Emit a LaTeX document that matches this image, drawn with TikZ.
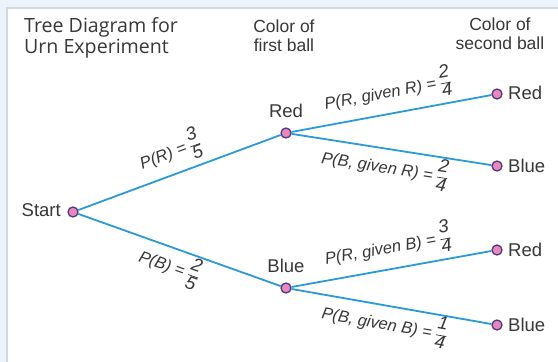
\documentclass[tikz,border=0pt]{standalone}
\usepackage{fontspec}
\setmainfont{Liberation Sans}
\newfontfamily\titlefont{Open Sans}
\definecolor{pagebg}{HTML}{EDF3FB}
\definecolor{frameline}{HTML}{D3D8DF}
\definecolor{branch}{HTML}{2A9ADA}
\definecolor{dotfill}{HTML}{EE86B8}
\definecolor{dotline}{HTML}{4A3A90}
\definecolor{ink}{HTML}{383838}
% stacked fraction set in a slightly larger text font
\newcommand\tfrac[2]{{\fontsize{18.5}{20}\selectfont
  \renewcommand\arraystretch{0.92}\setlength\arrayrulewidth{0.7pt}%
  \setlength\tabcolsep{0pt}%
  \begin{tabular}[c]{c}#1\\\hline#2\end{tabular}}}
\begin{document}
\begin{tikzpicture}[x=1pt,y=-1pt,
  outcome/.style={circle,draw=dotline,fill=dotfill,line width=1.3pt,
    minimum size=10pt,inner sep=0pt},
  branchline/.style={draw=branch,line width=1.8pt},
  prob/.style={sloped,font=\fontsize{16.5}{18}\selectfont\itshape,text=ink,
    inner sep=0.5pt},
  lbl/.style={font=\fontsize{18.5}{20}\selectfont,text=ink,inner sep=0pt},
  head/.style={font=\fontsize{17.5}{18.5}\selectfont,text=ink,align=center,
    inner sep=0pt}]
% page and panel
\fill[pagebg] (0,0) rectangle (558,362);
\useasboundingbox (0,0) rectangle (558,362);
\filldraw[fill=white,draw=frameline,line width=1.2pt] (7,8) rectangle (570,372);
% headings
\node[anchor=north west,align=left,inner sep=0pt,text=ink,
  font=\titlefont\fontsize{19.6}{21.5}\selectfont] (title) at (24,17)
  {Tree Diagram for\\Urn Experiment};
\node[head,anchor=north] (h1) at (284,20) {Color of\\first ball};
\node[head,anchor=north] (h2) at (500,18) {Color of\\second ball};
% tree points
\node[outcome] (s) at (73,212) {};
\node[outcome] (r) at (286,133) {};
\node[outcome] (b) at (286,288) {};
\node[outcome] (rr) at (497,94) {};
\node[outcome] (rb) at (497,166) {};
\node[outcome] (br) at (497,250) {};
\node[outcome] (bb) at (497,325) {};
% point labels
\node[lbl,anchor=east] (ls) at (61,210) {Start};
\node[lbl,anchor=south] (lr) at (286,118) {Red};
\node[lbl,anchor=south] (lb) at (286,273) {Blue};
\node[lbl,anchor=west] (lrr) at (508,93) {Red};
\node[lbl,anchor=west] (lrb) at (508,166) {Blue};
\node[lbl,anchor=west] (lbr) at (508,250) {Red};
\node[lbl,anchor=west] (lbb) at (508,325) {Blue};
% branches with their probabilities
\draw[branchline] (s) -- node[prob,above,pos=0.49] (p1) {P(R) = \tfrac{3}{5}} (r);
\draw[branchline] (s) -- node[prob,below,pos=0.48] (p2) {P(B) = \tfrac{2}{5}} (b);
\draw[branchline] (r) -- node[prob,above,pos=0.5] (p3) {P(R, given R) = \tfrac{2}{4}} (rr);
\draw[branchline] (r) -- node[prob,below,pos=0.48] (p4) {P(B, given R) = \tfrac{2}{4}} (rb);
\draw[branchline] (b) -- node[prob,above,pos=0.5] (p5) {P(R, given B) = \tfrac{3}{4}} (br);
\draw[branchline] (b) -- node[prob,below,pos=0.48] (p6) {P(B, given B) = \tfrac{1}{4}} (bb);
\end{tikzpicture}
\end{document}
